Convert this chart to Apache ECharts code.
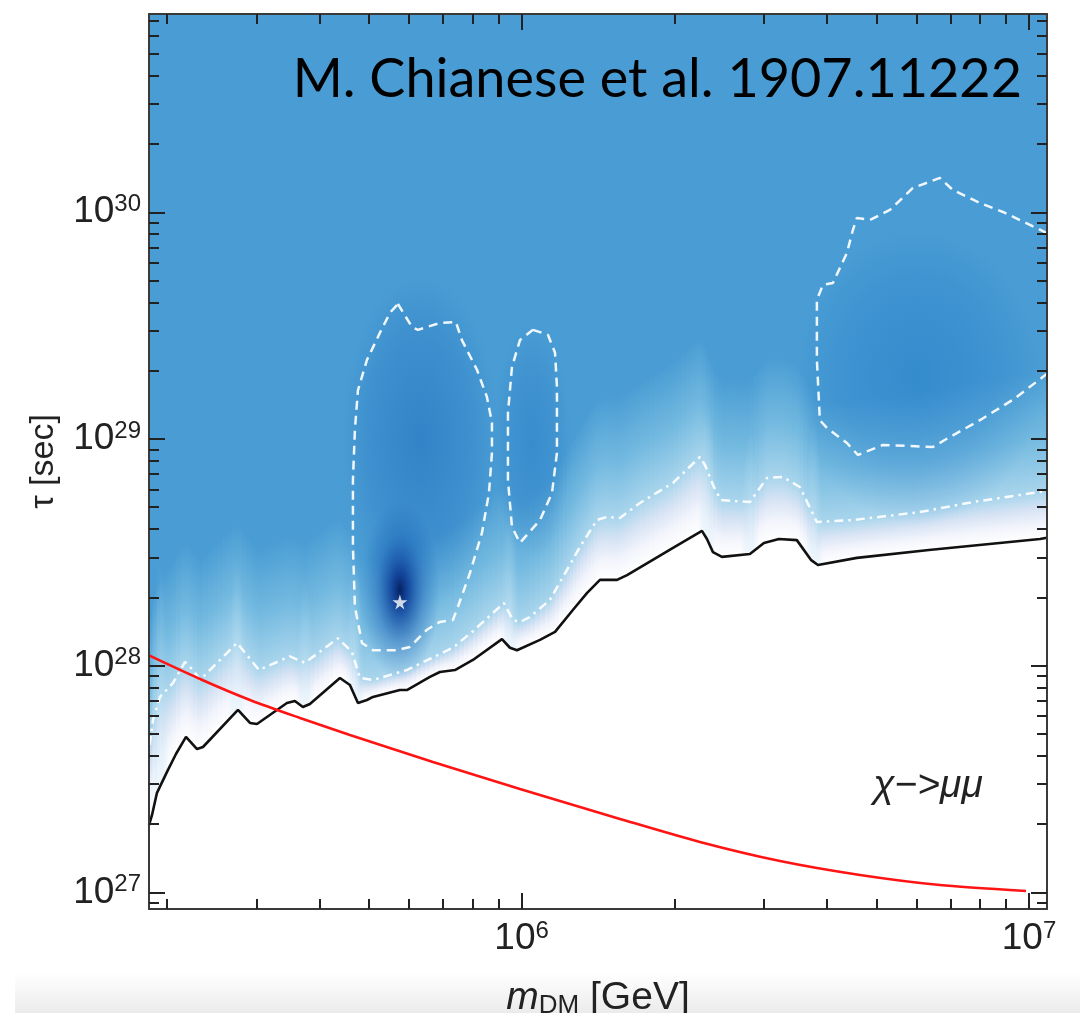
<!DOCTYPE html>
<html><head><meta charset="utf-8">
<script src="https://cdn.jsdelivr.net/npm/echarts@6/dist/echarts.min.js"></script>
<style>html,body{margin:0;padding:0;background:#fff;}#c{width:1080px;height:1013px;}</style>
</head><body><div id="c"></div>
<script>
// ---------- DATA ----------
const xMin = 1.844e5, xMax = 1.085e7;
const yMin = 8.45e26, yMax = 7.49e30;
const xMajorTicks = [1e6, 1e7];
const xMinorTicks = [2e5,3e5,4e5,5e5,6e5,7e5,8e5,9e5,2e6,3e6,4e6,5e6,6e6,7e6,8e6,9e6];
const yMajorTicks = [1e27, 1e28, 1e29, 1e30];
const yMinorTicks = [9e26,2e27,3e27,4e27,5e27,6e27,7e27,8e27,9e27,2e28,3e28,4e28,5e28,6e28,7e28,8e28,9e28,
                     2e29,3e29,4e29,5e29,6e29,7e29,8e29,9e29,2e30,3e30,4e30,5e30,6e30,7e30];

// lower limit (black solid)
const limitLine = [[1.844e5,1.98e27],[1.869e5,2.19e27],[1.911e5,2.74e27],[2.001e5,3.40e27],[2.084e5,4.08e27],
 [2.181e5,4.85e27],[2.293e5,4.29e27],[2.356e5,4.38e27],[2.761e5,6.38e27],[2.916e5,5.59e27],[3.010e5,5.53e27],
 [3.448e5,6.85e27],[3.575e5,6.99e27],[3.707e5,6.57e27],[3.827e5,6.78e27],[4.385e5,8.83e27],[4.589e5,8.22e27],
 [4.759e5,6.85e27],[4.957e5,7.06e27],[5.094e5,7.28e27],[5.757e5,7.81e27],[5.943e5,7.81e27],[6.597e5,8.92e27],
 [6.903e5,9.38e27],[7.390e5,9.57e27],[8.018e5,1.06e28],[9.148e5,1.31e28],[9.486e5,1.20e28],[9.793e5,1.17e28],
 [1.087e6,1.30e28],[1.164e6,1.41e28],[1.262e6,1.76e28],[1.345e6,2.09e28],[1.427e6,2.39e28],[1.542e6,2.39e28],
 [1.614e6,2.51e28],[1.988e6,3.31e28],[2.267e6,3.93e28],[2.319e6,3.62e28],[2.383e6,3.17e28],[2.482e6,3.02e28],
 [2.818e6,3.11e28],[3.003e6,3.48e28],[3.215e6,3.62e28],[3.487e6,3.58e28],[3.716e6,2.93e28],[3.837e6,2.78e28],
 [4.579e6,2.99e28],[6.348e6,3.24e28],[1.051e7,3.62e28],[1.085e7,3.67e28]];

// white dash-dotted contour
const dashDotLine = [[1.850e5,4.47e27],[1.877e5,5.76e27],[1.938e5,7.28e27],[2.056e5,8.39e27],[2.171e5,1.04e28],
 [2.251e5,9.57e27],[2.324e5,8.65e27],[2.749e5,1.26e28],[3.038e5,9.57e27],[3.496e5,1.10e28],[3.741e5,1.03e28],
 [4.345e5,1.32e28],[4.631e5,1.15e28],[4.802e5,8.83e27],[5.094e5,8.65e27],[5.943e5,9.57e27],[7.322e5,1.20e28],
 [8.018e5,1.42e28],[9.230e5,1.89e28],[9.616e5,1.59e28],[9.927e5,1.56e28],[1.039e6,1.64e28],[1.137e6,1.95e28],
 [1.228e6,2.64e28],[1.303e6,3.34e28],[1.408e6,4.39e28],[1.473e6,4.53e28],[1.563e6,4.48e28],[1.711e6,5.22e28],
 [1.988e6,6.40e28],[2.246e6,8.33e28],[2.298e6,7.68e28],[2.393e6,6.14e28],[2.471e6,5.38e28],[2.818e6,5.27e28],
 [3.044e6,6.73e28],[3.273e6,6.80e28],[3.534e6,6.14e28],[3.819e6,4.30e28],[4.497e6,4.39e28],[6.094e6,4.76e28],
 [7.750e6,5.27e28],[1.085e7,5.90e28]];

// white dashed contours (islands)
const island1 = [[5.705e5,3.94e29],[6.080e5,3.12e29],[6.248e5,3.03e29],[6.903e5,3.25e29],[7.423e5,3.28e29],
 [7.628e5,2.73e29],[8.167e5,2.02e29],[8.546e5,1.53e29],[8.742e5,1.18e29],[8.742e5,8.68e28],[8.624e5,5.78e28],
 [8.354e5,3.85e28],[7.910e5,2.56e28],[7.491e5,1.82e28],[7.322e5,1.59e28],[6.903e5,1.56e28],[6.508e5,1.44e28],
 [6.024e5,1.21e28],[5.679e5,1.17e28],[5.094e5,1.17e28],[4.846e5,1.26e28],[4.694e5,1.82e28],[4.652e5,3.34e28],
 [4.652e5,6.59e28],[4.694e5,1.10e29],[4.759e5,1.64e29],[4.957e5,2.23e29],[5.258e5,2.94e29],[5.502e5,3.60e29],
 [5.705e5,3.94e29]];
const island2 = [[1.053e6,3.03e29],[1.127e6,2.88e29],[1.164e6,2.40e29],[1.174e6,1.70e29],[1.174e6,8.68e28],
 [1.148e6,5.78e28],[1.087e6,4.39e28],[9.927e5,3.48e28],[9.573e5,4.09e28],[9.400e5,6.59e28],[9.400e5,1.30e29],
 [9.573e5,2.08e29],[9.927e5,2.73e29],[1.053e6,3.03e29]];
const island3 = [[1.085e7,8.10e29],[8.886e6,1.003e30],[8.000e6,1.099e30],[7.078e6,1.254e30],[6.673e6,1.417e30],
 [5.904e6,1.280e30],[5.319e6,1.024e30],[4.857e6,9.25e29],[4.579e6,9.44e29],[4.497e6,8.35e29],[4.377e6,6.62e29],
 [4.107e6,4.88e29],[3.924e6,4.78e29],[3.819e6,4.11e29],[3.819e6,2.23e29],[3.871e6,1.21e29],[3.996e6,1.12e29],
 [4.377e6,9.60e28],[4.600e6,8.50e28],[5.152e6,9.41e28],[6.464e6,9.22e28],[6.982e6,1.02e29],[8.000e6,1.21e29],
 [9.299e6,1.49e29],[1.066e7,1.88e29],[1.085e7,1.94e29]];

// red curve
const redLine = [[1.844e5,1.11e28],[2.324e5,8.74e27],[2.916e5,7.06e27],[3.659e5,5.88e27],[4.589e5,4.95e27],
 [6.688e5,3.76e27],[9.927e5,2.86e27],[1.563e6,2.11e27],[2.246e6,1.67e27],[3.231e6,1.376e27],[4.645e6,1.194e27],
 [6.676e6,1.078e27],[9.863e6,1.014e27]];

// best fit point
const bestFit = [[5.757e5, 1.91e28]];

// darker regions of the test-statistic map: [xLow, xHigh, yLow, yHigh]
const fieldBlobs = [
  [3.425e6, 1.066e7, 4.17e28, 8.79e29],
  [8.742e5, 1.256e6, 2.93e28, 3.35e29],
  [4.385e5, 9.07e5, 1.76e28, 5.57e29],
  [4.802e5, 6.903e5, 8.65e27, 5.38e28]
];
const blobStyles = [
  [[0,'rgba(35,125,200,0.55)'],[0.6,'rgba(35,125,200,0.3)'],[1,'rgba(35,125,200,0)']],
  [[0,'rgba(35,120,195,0.45)'],[0.6,'rgba(35,120,195,0.25)'],[1,'rgba(35,120,195,0)']],
  [[0,'rgba(30,110,190,0.55)'],[0.6,'rgba(30,110,190,0.3)'],[1,'rgba(30,110,190,0)']],
  [[0,'rgba(6,32,100,1)'],[0.22,'rgba(10,60,150,0.85)'],[0.6,'rgba(25,95,180,0.4)'],[1,'rgba(30,110,190,0)']]
];

// lighter vertical streaks of the map: [m, top of streak]
const streaks = [[1.938e5,2.9e28],[2.749e5,2.9e28],[3.741e5,2.4e28],[4.694e5,2.9e28],[9.486e5,5.4e28],
 [2.319e6,1.5e29],[2.818e6,1.1e29],[3.767e6,1.2e29]];

// ---------- RENDERING ----------
const chart = echarts.init(document.getElementById('c'), null, {renderer: 'canvas'});
const BG = '#4a9dd4';
const FONT = 'Liberation Sans';

function interpPx(pts, px) {
  if (px <= pts[0][0]) return pts[0][1];
  for (let i = 1; i < pts.length; i++) {
    if (px <= pts[i][0]) {
      const a = pts[i-1], b = pts[i];
      const t = (px - a[0]) / ((b[0] - a[0]) || 1);
      return a[1] + t * (b[1] - a[1]);
    }
  }
  return pts[pts.length-1][1];
}

function bandRender(params, api) {
  const blk = limitLine.map(p => api.coord(p));
  const dd = dashDotLine.map(p => api.coord(p));
  let xs = blk.map(p => p[0]).concat(dd.map(p => p[0]));
  xs.sort((a,b) => a-b);
  const fine = [];
  for (let i = 0; i < xs.length - 1; i++) {
    const a = xs[i], b = xs[i+1];
    if (b - a < 0.01) continue;
    const n = Math.max(1, Math.ceil((b - a) / 5));
    for (let k = 0; k < n; k++) fine.push(a + (b - a) * k / n);
  }
  fine.push(xs[xs.length-1]);
  const FADE = 120;
  const children = [];
  for (let i = 0; i < fine.length - 1; i++) {
    const x0 = fine[i], x1 = fine[i+1] + 0.8;
    const b0 = interpPx(blk, x0), b1 = interpPx(blk, x1);
    const d0 = interpPx(dd, x0), d1 = interpPx(dd, x1);
    const t0 = d0 - FADE, t1 = d1 - FADE;
    const bm = (b0+b1)/2, dm = (d0+d1)/2, tm = (t0+t1)/2;
    const f = Math.min(0.95, Math.max(0.05, (bm - dm) / (bm - tm)));
    const grad = new echarts.graphic.LinearGradient(0, bm, 0, tm, [
      {offset: 0, color: '#ffffff'},
      {offset: f*0.3, color: '#f3f5fc'},
      {offset: f*0.65, color: '#d6e3f4'},
      {offset: f, color: '#a9d5ec'},
      {offset: f + (1-f)*0.45, color: '#74bae0'},
      {offset: 1, color: BG}
    ], true);
    children.push({type: 'polygon', silent: true,
      shape: {points: [[x0,b0],[x1,b1],[x1,t1],[x0,t0]]},
      style: {fill: grad}});
  }
  return {type: 'group', children};
}

function blobRender(params, api) {
  const b = fieldBlobs[params.dataIndex];
  const p0 = api.coord([b[0], b[2]]);
  const p1 = api.coord([b[1], b[3]]);
  const cx = (p0[0]+p1[0])/2, cy = (p0[1]+p1[1])/2;
  const rx = Math.abs(p1[0]-p0[0])/2, ry = Math.abs(p1[1]-p0[1])/2;
  const stops = blobStyles[params.dataIndex].map(s => ({offset: s[0], color: s[1]}));
  return {type: 'circle', silent: true, x: cx, y: cy, scaleY: ry/rx,
    shape: {cx: 0, cy: 0, r: rx},
    style: {fill: new echarts.graphic.RadialGradient(0.5, 0.5, 0.5, stops)}};
}

function streakRender(params, api) {
  const s = streaks[params.dataIndex];
  const blk = limitLine.map(p => api.coord(p));
  const top = api.coord([s[0], s[1]]);
  const bot = interpPx(blk, top[0]);
  const ry = Math.max(10, bot - top[1]);
  const rx = 9;
  return {type: 'circle', silent: true, x: top[0], y: bot, scaleY: ry/rx,
    shape: {cx: 0, cy: 0, r: rx},
    style: {fill: new echarts.graphic.RadialGradient(0.5, 0.5, 0.5, [
      {offset: 0, color: 'rgba(225,240,250,0.55)'},
      {offset: 0.5, color: 'rgba(200,230,245,0.25)'},
      {offset: 1, color: 'rgba(190,225,245,0)'}])}};
}

const powLabel = v => '{b|10}{s|' + Math.round(Math.log10(v)) + '}';
const labelRich = {
  b: {fontSize: 37, fontFamily: FONT, color: '#222', lineHeight: 40},
  s: {fontSize: 24, fontFamily: FONT, color: '#222', lineHeight: 24, verticalAlign: 'top'}
};
const axisLineStyle = {show: true, onZero: false, lineStyle: {color: '#3a3a3a', width: 2}};
const tickStyle = {color: '#222', width: 2};

function xAx(pos, major, withLabels) {
  const o = {type: 'log', position: pos, min: xMin, max: xMax, z: 10,
    axisLine: major ? axisLineStyle : {show: false, onZero: false},
    axisTick: {show: true, inside: true, length: major ? 16 : 10, customValues: major ? xMajorTicks : xMinorTicks, lineStyle: tickStyle},
    axisLabel: withLabels ? {show: true, customValues: xMajorTicks, formatter: powLabel, rich: labelRich, margin: 10} : {show: false},
    splitLine: {show: false}, minorTick: {show: false}};
  if (withLabels) {
    o.name = '{i|m}{sub|DM}{n| [GeV]}';
    o.nameLocation = 'middle';
    o.nameGap = 68;
    o.nameTextStyle = {rich: {
      i: {fontSize: 39, fontStyle: 'italic', fontFamily: FONT, color: '#222', lineHeight: 42},
      sub: {fontSize: 26, fontFamily: FONT, color: '#222', lineHeight: 26, verticalAlign: 'bottom'},
      n: {fontSize: 39, fontFamily: FONT, color: '#222', lineHeight: 42}
    }};
  }
  return o;
}
function yAx(pos, major, withLabels) {
  const o = {type: 'log', position: pos, min: yMin, max: yMax, z: 10,
    axisLine: major ? axisLineStyle : {show: false, onZero: false},
    axisTick: {show: true, inside: true, length: major ? 16 : 10, customValues: major ? yMajorTicks : yMinorTicks, lineStyle: tickStyle},
    axisLabel: withLabels ? {show: true, customValues: yMajorTicks, formatter: powLabel, rich: labelRich, margin: 8} : {show: false},
    splitLine: {show: false}, minorTick: {show: false}};
  if (withLabels) {
    o.name = 'τ [sec]';
    o.nameLocation = 'middle';
    o.nameGap = 88;
    o.nameTextStyle = {fontSize: 34, fontFamily: FONT, color: '#222'};
  }
  return o;
}

const contourStyle = {color: 'rgba(255,255,255,0.92)', width: 2.5, type: [9, 6]};

const option = {
  animation: false,
  backgroundColor: '#ffffff',
  grid: {left: 149, right: 33, top: 14, bottom: 104, show: true, backgroundColor: BG, borderWidth: 0,
         containLabel: false, outerBoundsMode: 'none'},
  xAxis: [xAx('bottom', true, true), xAx('bottom', false, false), xAx('top', true, false), xAx('top', false, false)],
  yAxis: [yAx('left', true, true), yAx('left', false, false), yAx('right', true, false), yAx('right', false, false)],
  graphic: [
    {type: 'rect', z: -10, silent: true, shape: {x: 15, y: 972, width: 1065, height: 41},
     style: {fill: new echarts.graphic.LinearGradient(0, 0, 0, 1, [{offset: 0, color: 'rgba(236,236,236,0)'}, {offset: 1, color: '#ebebeb'}])}},
    {type: 'text', z: 100, x: 1022, y: 80, silent: true,
     style: {text: 'M. Chianese et al. 1907.11222', fontSize: 54, fontFamily: 'Lato', fill: '#000', align: 'right', verticalAlign: 'middle'}},
    {type: 'text', z: 100, x: 928, y: 786, silent: true,
     style: {text: 'χ−>μμ', fontSize: 39, fontStyle: 'italic', fontFamily: FONT, fill: '#222', align: 'center', verticalAlign: 'middle'}}
  ],
  series: [
    {type: 'custom', name: 'band', z: 1, clip: true, renderItem: bandRender, data: [[xMin, yMin]], silent: true},
    {type: 'custom', name: 'streaks', z: 2, clip: true, renderItem: streakRender, data: streaks, silent: true},
    {type: 'custom', name: 'field', z: 3, clip: true, renderItem: blobRender,
     data: fieldBlobs.map(b => [b[0], b[2]]), silent: true},
    {type: 'line', name: 'limit', z: 5, data: limitLine, symbol: 'none', silent: true,
     lineStyle: {color: '#111', width: 2.6}, areaStyle: {color: '#ffffff', opacity: 1, origin: 'start'}},
    {type: 'line', name: 'dashdot', z: 6, data: dashDotLine, symbol: 'none', silent: true,
     lineStyle: {color: 'rgba(255,255,255,0.92)', width: 2.5, type: [9, 5, 2.5, 5]}},
    {type: 'line', name: 'island1', z: 6, data: island1, symbol: 'none', silent: true, lineStyle: contourStyle},
    {type: 'line', name: 'island2', z: 6, data: island2, symbol: 'none', silent: true, lineStyle: contourStyle},
    {type: 'line', name: 'island3', z: 6, data: island3, symbol: 'none', silent: true, lineStyle: contourStyle},
    {type: 'line', name: 'red', z: 7, data: redLine, symbol: 'none', smooth: 0.3, silent: true,
     lineStyle: {color: '#ff1414', width: 2.6}},
    {type: 'scatter', name: 'best', z: 8, data: bestFit, silent: true,
     symbol: 'path://M50,0 L61,35 L98,35 L68,57 L79,91 L50,70 L21,91 L32,57 L2,35 L39,35 Z',
     symbolSize: 15, itemStyle: {color: '#ffffff'}}
  ]
};
chart.setOption(option);
</script></body></html>
